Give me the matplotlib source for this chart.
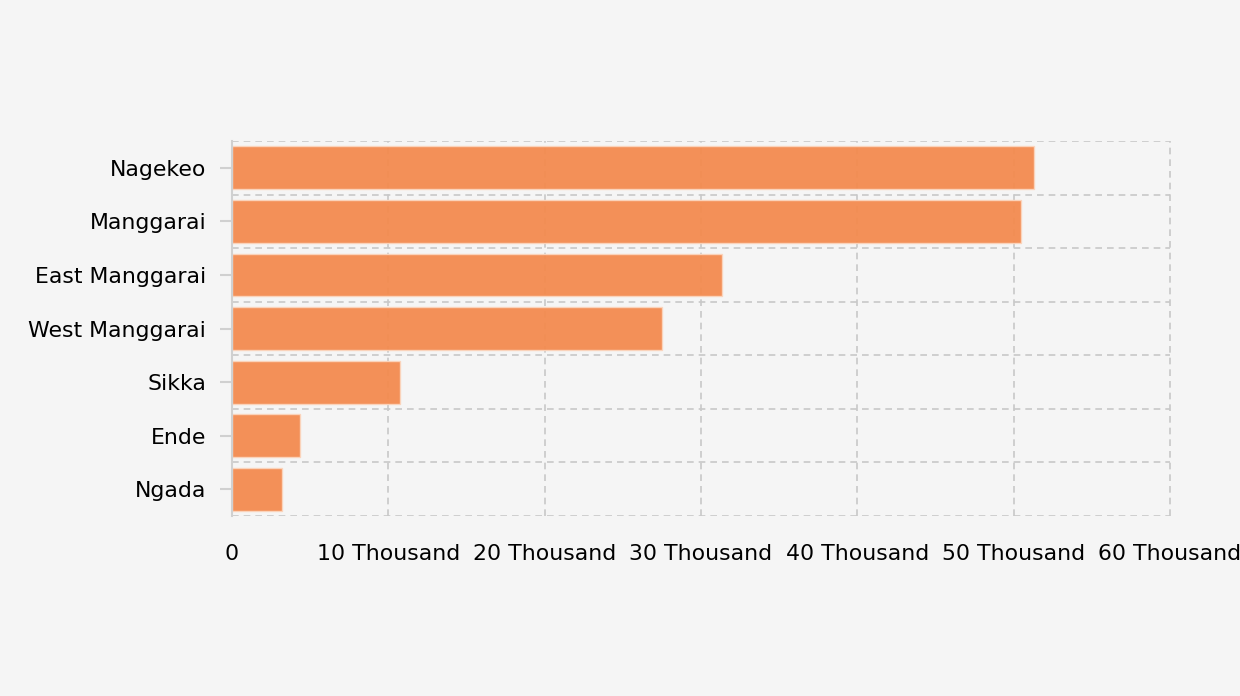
import matplotlib.pyplot as plt
from matplotlib.ticker import FuncFormatter, MultipleLocator

regions = ["Nagekeo", "Manggarai", "East Manggarai", "West Manggarai", "Sikka", "Ende", "Ngada"]
values = [51300, 50500, 31350, 27500, 10750, 4350, 3200]

bg = "#f5f5f5"
grid_col = "#c8c8c8"

fig = plt.figure(figsize=(12.4, 6.96), dpi=100, facecolor=bg)
ax = fig.add_axes([0.1871, 0.2586, 0.7564, 0.5388], facecolor=bg)

pos = list(range(len(regions)))
ax.barh(pos, values, height=0.8, color="#f38b4f", alpha=0.95,
        edgecolor="#fbd5bd", linewidth=1, zorder=3)

ax.set_ylim(len(regions) - 0.5, -0.5)
ax.set_xlim(0, 60000)
ax.set_yticks(pos)
ax.set_yticklabels(regions)
ax.xaxis.set_major_locator(MultipleLocator(10000))
ax.xaxis.set_major_formatter(FuncFormatter(
    lambda v, p: "0" if v == 0 else f"{int(v / 1000)} Thousand"))

# dashed grid incl. top/bottom/right border
ax.set_yticks([p + 0.5 for p in range(-1, len(regions))], minor=True)
ax.grid(axis="y", which="minor", linestyle=(0, (4, 3)), color=grid_col, linewidth=1.2, zorder=0)
ax.grid(axis="x", which="major", linestyle=(0, (4, 3)), color=grid_col, linewidth=1.2, zorder=0)
for ln in ax.get_xgridlines() + ax.yaxis.get_minorticklines() + ax.get_ygridlines():
    ln.set_clip_on(False)
ax.tick_params(axis="y", which="minor", length=0)

for s in ["top", "right", "bottom"]:
    ax.spines[s].set_visible(False)
ax.spines["left"].set_color("#d0d0d0")
ax.spines["left"].set_linewidth(1.5)
ax.spines["left"].set_zorder(4)

ax.tick_params(axis="x", length=0, pad=20, labelsize=15.8, colors="black")
ax.tick_params(axis="y", which="major", length=8.5, width=1.5, color="#d0d0d0",
               pad=10, labelsize=15.8)

fig.savefig("out.png", facecolor=bg)
